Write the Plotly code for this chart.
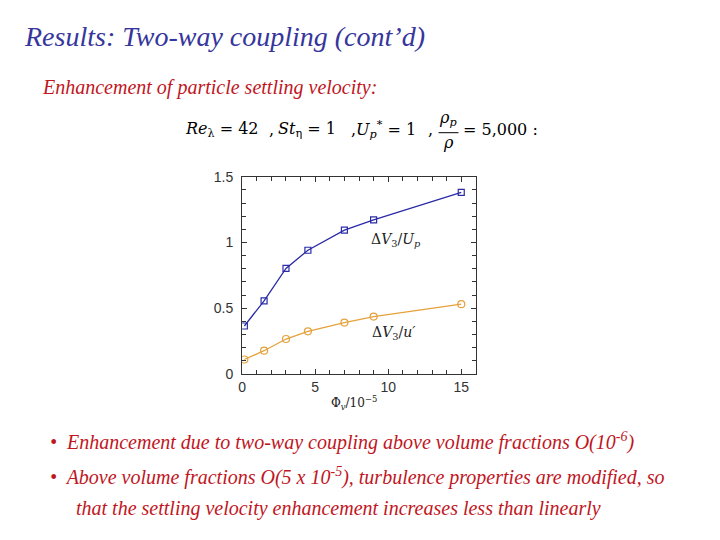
import plotly.graph_objects as go

# Data
phi_v = [0.15, 1.5, 3.0, 4.5, 7.0, 9.0, 15.0]
dv_over_Up = [0.364, 0.556, 0.803, 0.941, 1.094, 1.173, 1.382]
dv_over_u = [0.109, 0.176, 0.265, 0.324, 0.390, 0.436, 0.530]
x_ticks = [0, 5, 10, 15]
y_ticks = [0, 0.5, 1, 1.5]

W, H = 720, 540
def px(x): return x / W
def py(y): return 1 - y / H

BLUE = "#2b2ba6"
ORANGE = "#e5a23c"
TITLE_BLUE = "#36369c"
RED = "#c0161e"
SERIF = "Liberation Serif, Times New Roman, serif"
MATH = "DejaVu Serif, serif"
SANS = "Liberation Sans, Arial, sans-serif"

fig = go.Figure()
fig.add_trace(go.Scatter(
    x=phi_v, y=dv_over_Up, mode="lines+markers",
    line=dict(color=BLUE, width=1.3),
    marker=dict(symbol="square-open", size=6, color=BLUE, line=dict(width=1.2)),
    showlegend=False, hoverinfo="skip"))
fig.add_trace(go.Scatter(
    x=phi_v, y=dv_over_u, mode="lines+markers",
    line=dict(color=ORANGE, width=1.3),
    marker=dict(symbol="circle-open", size=7, color=ORANGE, line=dict(width=1.2)),
    showlegend=False, hoverinfo="skip"))

L, R, T, B = 239.5, 474.5, 174, 377

axis_common = dict(
    showline=True, linecolor="#333333", linewidth=1.2, mirror="ticks",
    ticks="inside", ticklen=5, tickwidth=1, tickcolor="#333333",
    showgrid=False, zeroline=False,
    tickfont=dict(family=SANS, size=14, color="#333333"),
)
fig.update_layout(
    width=W, height=H, margin=dict(l=0, r=0, t=0, b=0),
    paper_bgcolor="white", plot_bgcolor="white",
    xaxis=dict(domain=[px(L), px(R)], range=[0, 16], tickvals=x_ticks,
               minor=dict(dtick=1, ticks="inside", ticklen=4, tickcolor="#333333"),
               **axis_common),
    yaxis=dict(domain=[py(B), py(T)], range=[0, 1.5], tickvals=y_ticks,
               ticktext=["0", "0.5", "1", "1.5"], ticklabelstandoff=5,
               minor=dict(dtick=0.1, ticks="inside", ticklen=4, tickcolor="#333333"),
               **axis_common),
)

def A(text, x, y, size, color="black", family=SERIF, xanchor="left", italic=False, **kw):
    f = dict(family=family, size=size, color=color)
    if italic:
        f["style"] = "italic"
    d = dict(text=text, x=x, y=y, xanchor=xanchor, yanchor="middle", font=f,
             showarrow=False, xref=kw.get("xref", "paper"), yref=kw.get("yref", "paper"))
    return d

ann = []
ann.append(A("Results: Two-way coupling (cont’d)", px(18), py(29), 28, TITLE_BLUE, italic=True))
ann.append(A("Enhancement of particle settling velocity:", px(36), py(82), 20, RED, italic=True))
# equation line
EQY = 125
ann.append(A("<i>Re</i><sub>λ</sub> = 42", px(180), py(EQY), 16, family=MATH))
ann.append(A(",", px(264), py(EQY), 16, family=MATH))
ann.append(A("<i>St</i><sub>η</sub> = 1", px(274), py(EQY), 16, family=MATH))
ann.append(A(",<i>U</i><sub><i>p</i></sub><sup>*</sup> = 1", px(347), py(EQY), 16, family=MATH))
ann.append(A(",", px(424), py(EQY), 16, family=MATH))
ann.append(A("<i>ρ</i><sub><i>p</i></sub>", px(446), py(114), 16, family=MATH, xanchor="center"))
ann.append(A("<i>ρ</i>", px(447), py(139), 16, family=MATH, xanchor="center"))
ann.append(A("= 5,000 :", px(460), py(EQY), 16, family=MATH))
# series labels
ann.append(A("Δ<i>V</i><sub>3</sub>/<i>U</i><sub><i>p</i></sub>", 10.5, 1.02, 14,
             "#222222", family=MATH, xanchor="center", xref="x", yref="y"))
ann.append(A("Δ<i>V</i><sub>3</sub>/<i>u′</i>", 10.4, 0.31, 14,
             "#222222", family=MATH, xanchor="center", xref="x", yref="y"))
ann.append(A("Φ<sub><i>v</i></sub>/10<sup>−5</sup>", px(352), py(407), 12,
             "#222222", family=MATH, xanchor="center"))
# bullets
ann.append(A("•  Enhancement due to two-way coupling above volume fractions O(10<sup>-6</sup>)",
             px(44), py(447), 20, RED, italic=True))
ann.append(A("•  Above volume fractions O(5 x 10<sup>-5</sup>), turbulence properties are modified, so",
             px(44), py(483), 20, RED, italic=True))
ann.append(A("that the settling velocity enhancement increases less than linearly",
             px(70), py(516), 20, RED, italic=True))
fig.update_layout(annotations=ann)

fig.add_shape(type="line", xref="paper", yref="paper",
              x0=px(437), x1=px(457), y0=py(128.5), y1=py(128.5),
              line=dict(color="black", width=1))

fig.write_html("out.html", config={"displayModeBar": False},
               post_script="document.body.style.margin='0';document.body.style.overflow='hidden';")
